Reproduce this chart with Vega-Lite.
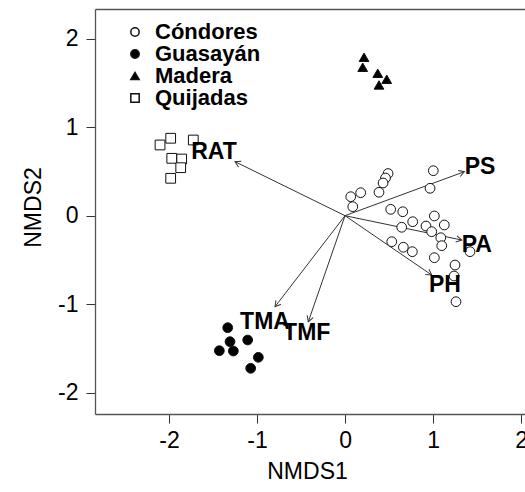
{
  "$schema": "https://vega.github.io/schema/vega-lite/v6.json",
  "width": 430,
  "height": 405,
  "autosize": {"type": "none"},
  "padding": {"left": 95, "top": 9, "right": 0, "bottom": 78},
  "background": "white",
  "config": {"view": {"stroke": null}, "font": "Liberation Sans"},
  "datasets": {
    "pts": [
      {"site": "Cóndores", "x": 1.003, "y": 0.509},
      {"site": "Cóndores", "x": 0.966, "y": 0.310},
      {"site": "Cóndores", "x": 0.489, "y": 0.477},
      {"site": "Cóndores", "x": 0.460, "y": 0.426},
      {"site": "Cóndores", "x": 0.432, "y": 0.370},
      {"site": "Cóndores", "x": 0.386, "y": 0.265},
      {"site": "Cóndores", "x": 0.178, "y": 0.260},
      {"site": "Cóndores", "x": 0.065, "y": 0.215},
      {"site": "Cóndores", "x": 0.088, "y": 0.102},
      {"site": "Cóndores", "x": 0.519, "y": 0.072},
      {"site": "Cóndores", "x": 0.656, "y": 0.045},
      {"site": "Cóndores", "x": 1.015, "y": -0.003},
      {"site": "Cóndores", "x": 0.769, "y": -0.068},
      {"site": "Cóndores", "x": 1.128, "y": -0.105},
      {"site": "Cóndores", "x": 0.920, "y": -0.117},
      {"site": "Cóndores", "x": 0.644, "y": -0.131},
      {"site": "Cóndores", "x": 0.985, "y": -0.181},
      {"site": "Cóndores", "x": 1.088, "y": -0.249},
      {"site": "Cóndores", "x": 1.099, "y": -0.339},
      {"site": "Cóndores", "x": 0.531, "y": -0.294},
      {"site": "Cóndores", "x": 0.663, "y": -0.357},
      {"site": "Cóndores", "x": 0.765, "y": -0.407},
      {"site": "Cóndores", "x": 1.420, "y": -0.407},
      {"site": "Cóndores", "x": 1.015, "y": -0.475},
      {"site": "Cóndores", "x": 1.250, "y": -0.558},
      {"site": "Cóndores", "x": 1.239, "y": -0.682},
      {"site": "Cóndores", "x": 1.261, "y": -0.973},
      {"site": "Guasayán", "x": -1.333, "y": -1.267},
      {"site": "Guasayán", "x": -1.307, "y": -1.425},
      {"site": "Guasayán", "x": -1.106, "y": -1.406},
      {"site": "Guasayán", "x": -1.428, "y": -1.527},
      {"site": "Guasayán", "x": -1.269, "y": -1.531},
      {"site": "Guasayán", "x": -0.985, "y": -1.602},
      {"site": "Guasayán", "x": -1.072, "y": -1.726},
      {"site": "Madera", "x": 0.216, "y": 1.792},
      {"site": "Madera", "x": 0.201, "y": 1.679},
      {"site": "Madera", "x": 0.372, "y": 1.611},
      {"site": "Madera", "x": 0.474, "y": 1.543},
      {"site": "Madera", "x": 0.386, "y": 1.479},
      {"site": "Quijadas", "x": -2.102, "y": 0.800},
      {"site": "Quijadas", "x": -1.981, "y": 0.876},
      {"site": "Quijadas", "x": -1.724, "y": 0.856},
      {"site": "Quijadas", "x": -1.969, "y": 0.649},
      {"site": "Quijadas", "x": -1.856, "y": 0.641},
      {"site": "Quijadas", "x": -1.867, "y": 0.543},
      {"site": "Quijadas", "x": -1.981, "y": 0.423}
    ],
    "vec": [
      {"var": "PS", "x": 1.356, "y": 0.498, "lx": 1.534, "ly": 0.554},
      {"var": "PA", "x": 1.326, "y": -0.275, "lx": 1.497, "ly": -0.331},
      {"var": "PH", "x": 0.985, "y": -0.671, "lx": 1.136, "ly": -0.784},
      {"var": "RAT", "x": -1.250, "y": 0.611, "lx": -1.489, "ly": 0.717},
      {"var": "TMA", "x": -0.795, "y": -1.029, "lx": -0.909, "ly": -1.199},
      {"var": "TMF", "x": -0.417, "y": -1.199, "lx": -0.435, "ly": -1.330}
    ]
  },
  "resolve": {"axis": {"x": "independent"}},
  "layer": [
    {
      "data": {"name": "vec"},
      "mark": {"type": "rule", "color": "#333", "strokeWidth": 1},
      "encoding": {
        "x": {"field": "x", "type": "quantitative", "scale": {"domain": [-2.841, 2.045], "nice": false, "zero": false}, "axis": null},
        "y": {"field": "y", "type": "quantitative", "title": "NMDS2",
          "scale": {"domain": [-2.243, 2.338], "nice": false, "zero": false},
          "axis": {"orient": "left", "values": [-2, -1, 0, 1, 2], "grid": false, "domainColor": "#555", "domainWidth": 1.3, "tickColor": "#333", "tickSize": 9, "labelFontSize": 23, "labelColor": "black", "labelPadding": 8,
            "labelExpr": "datum.value < 0 ? '-' + abs(datum.value) : '' + datum.value",
            "titleFontSize": 23, "titleFontWeight": "normal", "titleColor": "black", "titlePadding": 12, "titleY": 198}},
        "x2": {"datum": 0},
        "y2": {"datum": 0}
      }
    },
    {
      "data": {"name": "vec"},
      "transform": [{"calculate": "atan2(datum.x, datum.y) * 180 / PI", "as": "ang"}],
      "mark": {"type": "point", "shape": "M-0.5,0.87L0,0L0.5,0.87", "filled": false, "stroke": "#333", "strokeWidth": 1, "size": 160, "opacity": 1},
      "encoding": {
        "x": {"field": "x", "type": "quantitative", "axis": null},
        "y": {"field": "y", "type": "quantitative"},
        "angle": {"field": "ang", "type": "quantitative", "scale": null}
      }
    },
    {
      "data": {"name": "pts"},
      "mark": {"type": "point", "filled": true, "stroke": "#111", "strokeWidth": 1, "size": 95, "opacity": 1},
      "encoding": {
        "x": {"field": "x", "type": "quantitative", "title": "NMDS1",
          "axis": {"orient": "bottom", "values": [-2, -1, 0, 1, 2], "grid": false, "domainColor": "#555", "domainWidth": 1.3, "tickColor": "#333", "tickSize": 9, "labelFontSize": 23, "labelColor": "black", "labelPadding": 6,
            "labelExpr": "datum.value < 0 ? '-' + abs(datum.value) : '' + datum.value",
            "titleFontSize": 23, "titleFontWeight": "normal", "titleColor": "black", "titlePadding": 8, "titleX": 212, "titleAlign": "center"}},
        "y": {"field": "y", "type": "quantitative"},
        "shape": {"field": "site", "type": "nominal", "title": null,
          "scale": {"domain": ["Cóndores", "Guasayán", "Madera", "Quijadas"], "range": ["circle", "circle", "triangle-up", "square"]},
          "legend": {"orient": "none", "legendX": 29, "legendY": 12, "labelFontSize": 22, "labelFontWeight": "bold", "labelColor": "black", "symbolSize": 70, "labelOffset": 9, "rowPadding": 0, "padding": 0,
            "encode": {"symbols": {"update": {"stroke": {"value": "black"}, "strokeWidth": {"value": 1}}}}}},
        "fill": {"field": "site", "type": "nominal", "title": null,
          "scale": {"domain": ["Cóndores", "Guasayán", "Madera", "Quijadas"], "range": ["white", "black", "black", "white"]}}
      }
    },
    {
      "data": {"name": "vec"},
      "mark": {"type": "text", "fontWeight": "bold", "fontSize": 23, "color": "black", "align": "center", "baseline": "middle"},
      "encoding": {
        "x": {"field": "lx", "type": "quantitative",
          "axis": {"orient": "top", "labels": false, "ticks": false, "grid": false, "title": null, "domainColor": "#555", "domainWidth": 1.3}},
        "y": {"field": "ly", "type": "quantitative"},
        "text": {"field": "var"}
      }
    }
  ]
}
